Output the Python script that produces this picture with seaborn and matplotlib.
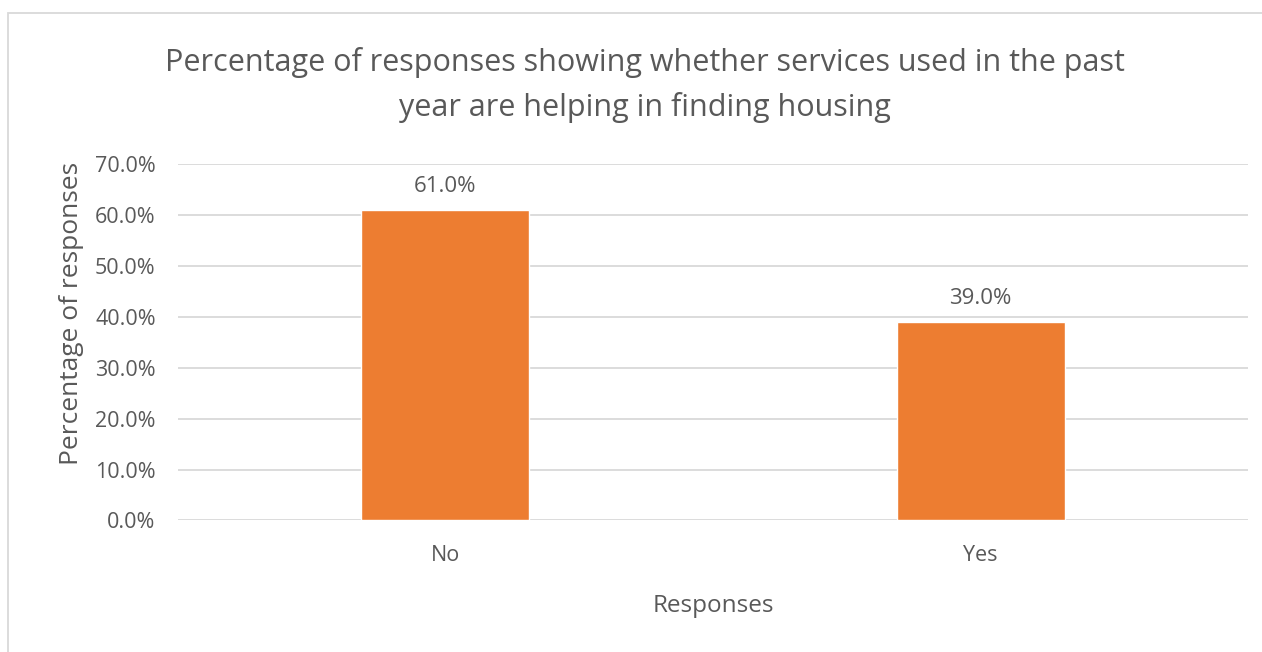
import matplotlib
matplotlib.use("Agg")
import matplotlib.pyplot as plt
import seaborn as sns
import pandas as pd
from matplotlib.patches import Rectangle

# chart data
responses = ["No", "Yes"]
percentages = [61.0, 39.0]
y_ticks = [0, 10, 20, 30, 40, 50, 60, 70]

title = "Percentage of responses showing whether services used in the past\nyear are helping in finding housing"
text_color = "#595959"
bar_color = "#ED7D31"

sns.set_style("white")
plt.rcParams["font.family"] = ["Open Sans", "DejaVu Sans"]

df = pd.DataFrame({"Responses": responses, "Percentage": percentages})

fig = plt.figure(figsize=(12.62, 6.52), dpi=100)
ax = fig.add_axes([0.141, 0.2017, 0.848, 0.547])

sns.barplot(data=df, x="Responses", y="Percentage", color=bar_color,
            saturation=1, width=0.314, ax=ax)

ax.set_ylim(0, 70)
ax.set_xlim(-0.5, 1.5)
ax.set_yticks(y_ticks)
ax.set_yticklabels([f"{t:.1f}%" for t in y_ticks])
ax.yaxis.grid(True, color="#d9d9d9", linewidth=1.3)
ax.set_axisbelow(True)
for s in ax.spines.values():
    s.set_visible(False)
ax.tick_params(axis="both", length=0, labelsize=15.5, labelcolor=text_color)
ax.tick_params(axis="y", pad=16)
ax.tick_params(axis="x", pad=18)

for p, v in zip(ax.patches, percentages):
    ax.annotate(f"{v:.1f}%", (p.get_x() + p.get_width() / 2, p.get_height()),
                xytext=(0, 9), textcoords="offset points", ha="center",
                va="bottom", fontsize=16, color=text_color)

ax.set_xlabel("Responses", fontsize=17.5, color=text_color, labelpad=20)
ax.set_ylabel("Percentage of responses", fontsize=19, color=text_color, labelpad=2)
ax.yaxis.set_label_coords(-0.088, 0.58)

fig.text(0.511, 0.87, title, ha="center", va="center", fontsize=22,
         color=text_color, linespacing=1.6)

fig.patches.append(Rectangle((8 / 1262, -0.1), 1.2, 1 - 13 / 652 + 0.1,
                             transform=fig.transFigure, fill=False,
                             edgecolor="#d9d9d9", linewidth=1.3))

fig.savefig("out.png", dpi=100)
